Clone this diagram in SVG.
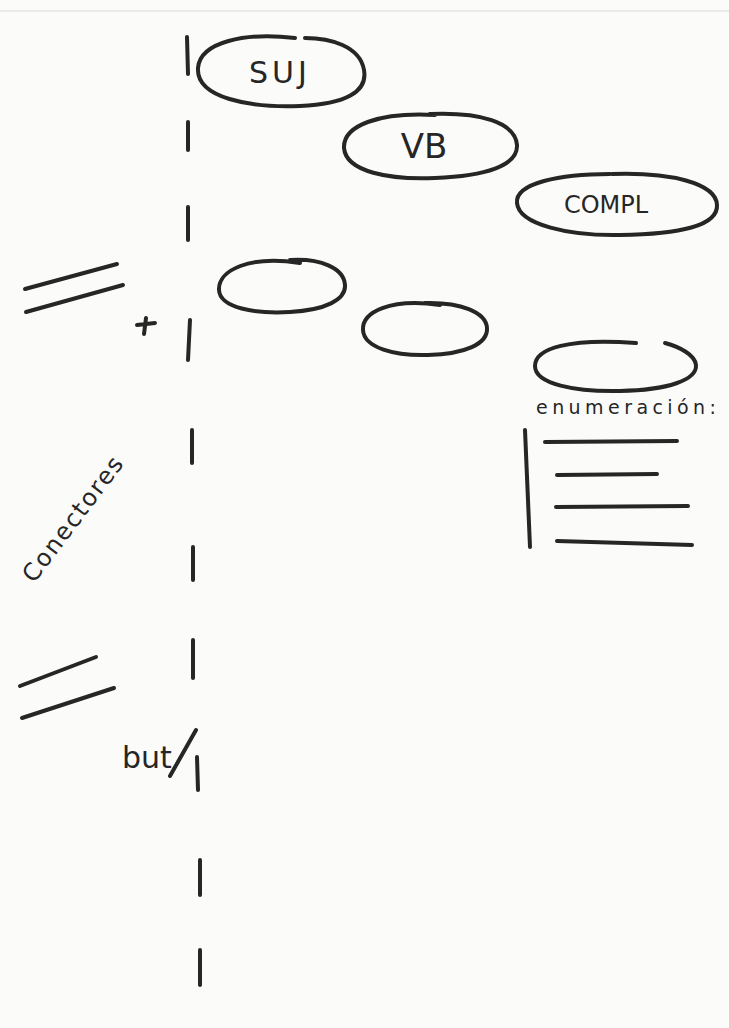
<svg xmlns="http://www.w3.org/2000/svg" width="729" height="1028" viewBox="0 0 729 1028">
<style>
.s{fill:none;stroke:#262626;stroke-width:4;stroke-linecap:round}
.t{font-family:"DejaVu Sans","Liberation Sans",sans-serif;fill:#262626}
</style>
<rect width="729" height="1028" fill="#fbfbfa"/>
<line x1="0" y1="11" x2="729" y2="11" stroke="#d8d8d8" stroke-width="1"/>
<g id="axis">
<path class="s" d="M187 37 L188 74"/>
<path class="s" d="M188 122 L188 150"/>
<path class="s" d="M188 207 L188 240"/>
<path class="s" d="M190 320 L188 360"/>
<path class="s" d="M192 430 L192 463"/>
<path class="s" d="M193 547 L193 580"/>
<path class="s" d="M193 640 L193 678"/>
<path class="s" d="M197 757 L198 790"/>
<path class="s" d="M200 860 L200 895"/>
<path class="s" d="M200 950 L200 985"/>
</g>
<g id="suj">
<path class="s" d="M295 38 C245 32 200 42 198 68 C196 98 250 108 300 106 C345 104 368 92 364 70 C360 46 330 38 305 38"/>
<text class="t" x="280" y="83" font-size="30" text-anchor="middle" letter-spacing="4">SUJ</text>
</g>
<g id="vb">
<path class="s" d="M435 115 C380 112 343 125 344 148 C346 172 390 180 435 178 C485 176 518 166 517 145 C515 122 480 112 430 114"/>
<text class="t" x="424" y="158" font-size="34" text-anchor="middle">VB</text>
</g>
<g id="compl">
<path class="s" d="M610 174 C560 174 515 183 517 203 C519 225 570 236 620 235 C680 234 718 226 717 205 C716 183 670 172 612 174"/>
<text class="t" x="606" y="213" font-size="24" text-anchor="middle">COMPL</text>
</g>
<g id="blank1">
<path class="s" d="M300 263 C250 255 218 270 219 290 C220 308 255 314 290 312 C325 310 346 300 345 285 C344 268 320 258 290 260"/>
</g>
<g id="blank2">
<path class="s" d="M440 305 C390 298 362 312 363 330 C364 348 395 356 428 355 C465 354 488 344 487 328 C486 312 460 302 425 303"/>
</g>
<g id="blank3">
<path class="s" d="M636 343 C570 338 535 348 535 366 C535 384 575 392 620 391 C668 390 697 380 696 365 C695 355 680 347 665 343"/>
</g>
<g id="enumeracion">
<text class="t" x="536" y="414" font-size="19" textLength="180" lengthAdjust="spacing">enumeración:</text>
<path class="s" d="M525 430 L530 547"/>
<path class="s" d="M545 442 L677 441"/>
<path class="s" d="M557 475 L657 474"/>
<path class="s" d="M556 507 L688 506"/>
<path class="s" d="M557 541 L692 545"/>
</g>
<g id="conectores">
<path class="s" d="M25 289 L117 264"/>
<path class="s" d="M26 312 L123 285"/>
<path class="s" d="M137 325 L155 323 M146 318 L144 334" stroke-width="3.5"/>
<text class="t" x="0" y="0" font-size="24" textLength="150" lengthAdjust="spacing" transform="translate(34,584) rotate(-53)">Conectores</text>
<path class="s" d="M20 686 L96 657"/>
<path class="s" d="M22 718 L114 688"/>
</g>
<g id="but">
<text class="t" x="122" y="768" font-size="30">but</text>
<path class="s" d="M170 776 L196 730" stroke-width="4"/>
</g>
</svg>
